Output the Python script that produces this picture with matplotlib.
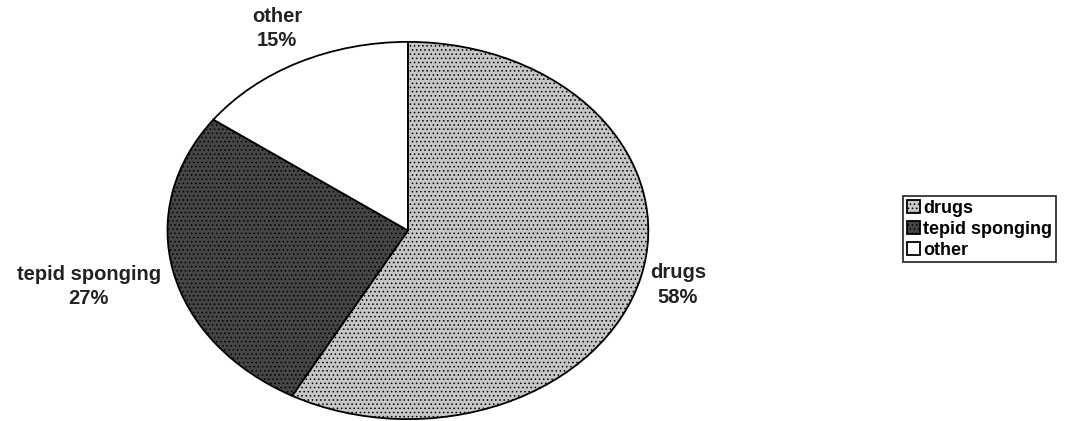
import matplotlib.pyplot as plt
import numpy as np

categories = ["drugs", "tepid sponging", "other"]
shares = [58, 27, 15]

COLORS = ["#c6c6c6", "#454545", "#ffffff"]
HATCHES = ["....", "....", ""]
LABEL_DIST = [1.16, 1.36, 1.2]

plt.rcParams["font.family"] = ["Liberation Sans", "DejaVu Sans"]
plt.rcParams["hatch.linewidth"] = 0.6

fig = plt.figure(figsize=(10.65, 4.21), dpi=100)
ax = fig.add_axes([0.155, 0.0, 0.456, 0.905])

wedges, _ = ax.pie(shares, startangle=90, counterclock=False, colors=COLORS,
                   wedgeprops=dict(edgecolor="black", linewidth=1.3))
for w, h in zip(wedges, HATCHES):
    w.set_hatch(h)
ax.set_aspect("auto")
ax.set_xlim(-1.01, 1.01)
ax.set_ylim(-1.01, 1.01)

# slice labels at the mid angle of each wedge
for w, cat, val, d in zip(wedges, categories, shares, LABEL_DIST):
    mid = np.deg2rad((w.theta1 + w.theta2) / 2)
    x, y = d * np.cos(mid), d * np.sin(mid)
    ax.text(x, y, f"{cat}\n{val}%", ha="center", va="center",
            fontsize=14.5, fontweight="bold", color="#222222",
            clip_on=False, linespacing=1.35)

leg = fig.legend(wedges, categories, loc="upper left", bbox_to_anchor=(0.848, 0.534),
                 frameon=True, fancybox=False, edgecolor="black",
                 prop=dict(weight="bold", size=13), handlelength=0.75, handleheight=0.75,
                 handletextpad=0.15, labelspacing=0.22, borderpad=0.2, borderaxespad=0)
leg.get_frame().set_linewidth(1.3)

fig.savefig("out.png", dpi=100)
